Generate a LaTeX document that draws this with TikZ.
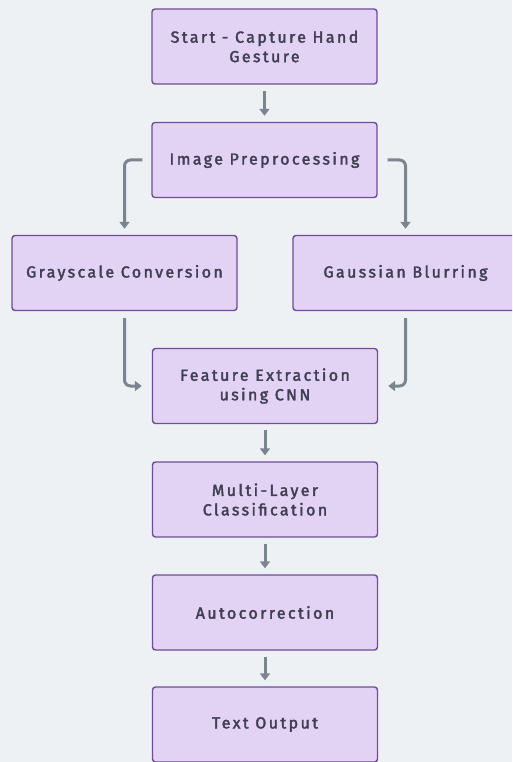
\documentclass[tikz,border=0pt]{standalone}
\usepackage{fontspec}
\newfontfamily\boxfont{Fira Sans}[LetterSpace=15, FakeBold=2.2]
\usetikzlibrary{arrows.meta}
\definecolor{bgc}{HTML}{EEF1F4}
\definecolor{boxfill}{HTML}{E2D3F4}
\definecolor{boxline}{HTML}{6F4C96}
\definecolor{arrc}{HTML}{7B8590}
\definecolor{txtc}{HTML}{403E52}
\tikzset{
  stepbox/.style={draw=boxline, line width=1.4pt, fill=boxfill, rounded corners=3pt,
    minimum width=225pt, minimum height=75pt, inner sep=0pt, align=center,
    text=txtc, font=\boxfont\fontsize{16}{19.5}\selectfont},
  arr/.style={draw=arrc, line width=3pt, -{Triangle[width=10pt,length=7pt]}},
}
\begin{document}
\begin{tikzpicture}[x=1pt,y=-1pt]
\fill[bgc] (0,0) rectangle (512,762);
\useasboundingbox (0,0) rectangle (512,762);
\begin{scope}
\clip (0,0) rectangle (512,762);
\node[stepbox] (start) at (264.5,46.5) {Start - Capture Hand\\Gesture};
\node[stepbox] (pre) at (264.5,160) {Image Preprocessing};
\node[stepbox] (gray) at (124.5,273) {Grayscale Conversion};
\node[stepbox] (gauss) at (405.5,273) {Gaussian Blurring};
\node[stepbox] (feat) at (265,386) {Feature Extraction\\using CNN};
\node[stepbox] (multi) at (265,499.5) {Multi-Layer\\Classification};
\node[stepbox] (auto) at (265,612.5) {Autocorrection};
\node[stepbox] (out) at (265,724.5) {Text Output};
\end{scope}
\draw[arr] ([yshift=-6pt]start.south) -- ([yshift=6pt]pre.north);
\draw[arr, rounded corners=6pt] ([xshift=-9pt]pre.west) -| ([yshift=6pt]gray.north);
\draw[arr, rounded corners=6pt] ([xshift=10pt]pre.east) -| ([yshift=6pt]gauss.north);
\draw[arr, rounded corners=6pt] ([yshift=-7pt]gray.south) |- ([xshift=-10pt]feat.west);
\draw[arr, rounded corners=6pt] ([yshift=-7pt]gauss.south) |- ([xshift=10pt]feat.east);
\draw[arr] ([yshift=-6pt]feat.south) -- ([yshift=6pt]multi.north);
\draw[arr] ([yshift=-6pt]multi.south) -- ([yshift=6pt]auto.north);
\draw[arr] ([yshift=-6pt]auto.south) -- ([yshift=6pt]out.north);
\end{tikzpicture}
\end{document}
